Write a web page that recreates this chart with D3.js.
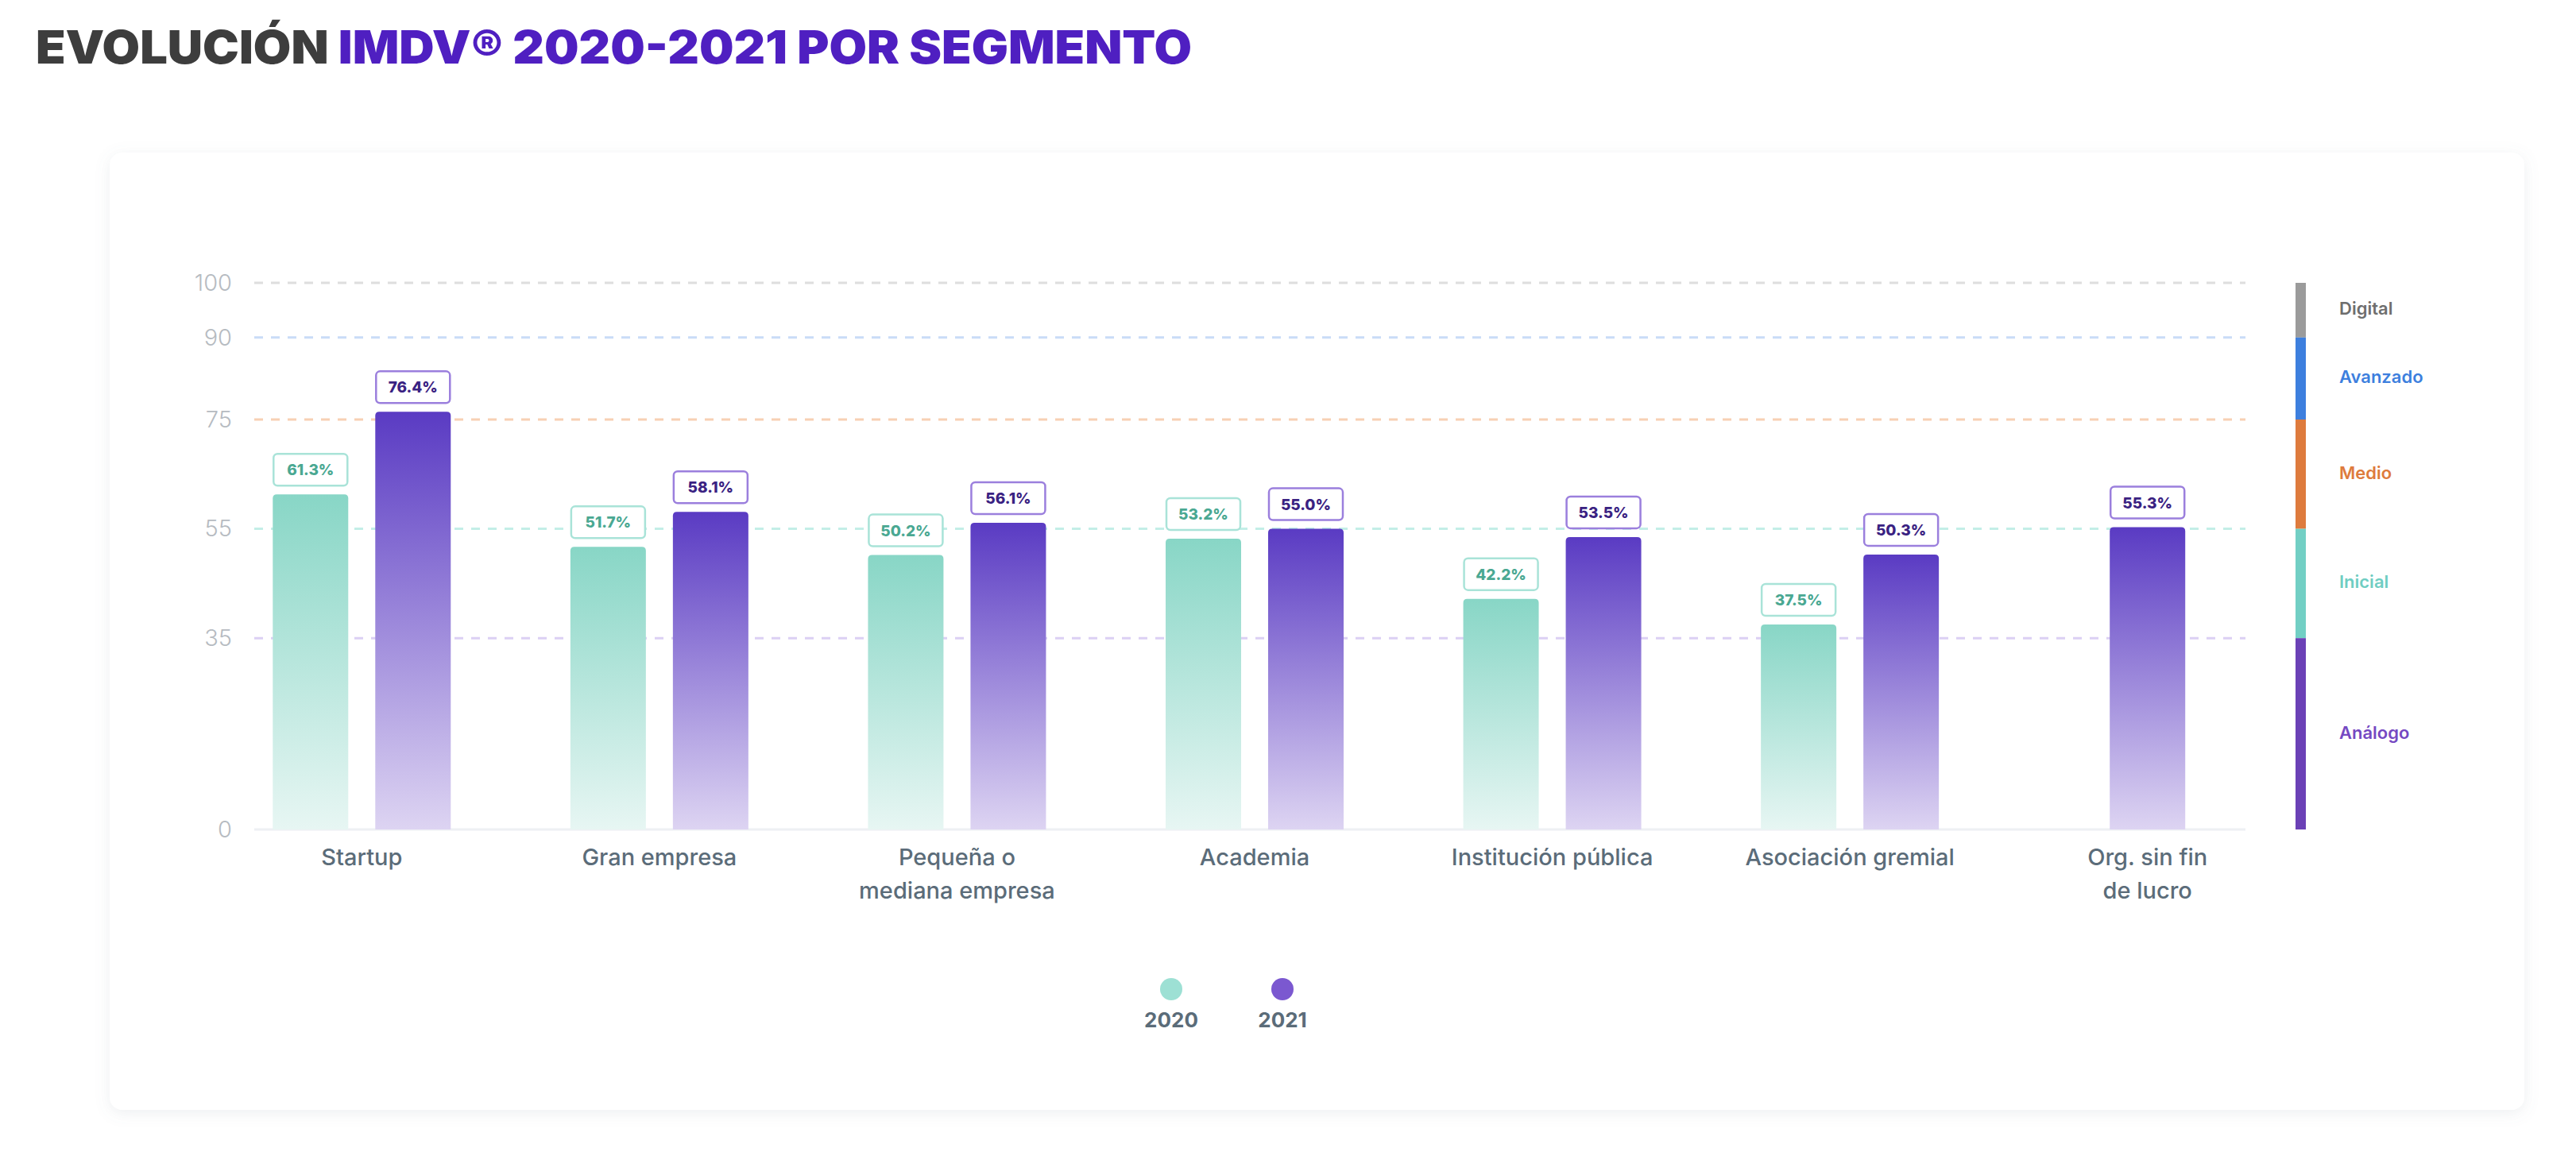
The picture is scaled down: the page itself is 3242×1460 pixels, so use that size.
<!DOCTYPE html>
<html>
<head>
<meta charset="utf-8">
<script src="https://cdn.jsdelivr.net/npm/d3@7"></script>
<style>
  html, body { margin: 0; padding: 0; background: #ffffff; }
  svg { display: block; }
  text { font-family: Inter, "Open Sans", sans-serif; }
</style>
</head>
<body>
<svg id="chart" width="3242" height="1460"></svg>
<script>
// ---------- data ----------
const categories = [
  "Startup",
  "Gran empresa",
  "Pequeña o\nmediana empresa",
  "Academia",
  "Institución pública",
  "Asociación gremial",
  "Org. sin fin\nde lucro"
];
const series = ["2020", "2021"];
const values2020 = [61.3, 51.7, 50.2, 53.2, 42.2, 37.5, null];
const values2021 = [76.4, 58.1, 56.1, 55.0, 53.5, 50.3, 55.3];
const yTicks = [0, 35, 55, 75, 90, 100];
const levelNames = ["Digital", "Avanzado", "Medio", "Inicial", "Análogo"];
const levelTop = [100, 90, 75, 55, 35];
const levelBottom = [90, 75, 55, 35, 0];

// ---------- styles ----------
const levelBarColors = ["#9b9b9b", "#3d7fde", "#de7b3d", "#72cfc4", "#6b41b6"];
const levelTextColors = ["#6e6e6e", "#3d7fde", "#de7b3d", "#6fcdc2", "#7549c2"];
const gridColors = {0: null, 35: "#dcd0f4", 55: "#c3eee7", 75: "#f7d0b4", 90: "#c9dcf7", 100: "#dedede"};

const svg = d3.select("#chart");
const defs = svg.append("defs");

// card shadow
const f = defs.append("filter").attr("id", "shadow").attr("x", "-5%").attr("y", "-5%").attr("width", "110%").attr("height", "115%");
f.append("feDropShadow").attr("dx", 0).attr("dy", 4).attr("stdDeviation", 9).attr("flood-color", "#7a8a99").attr("flood-opacity", 0.13);

function grad(id, top, bottom) {
  const g = defs.append("linearGradient").attr("id", id).attr("x1", 0).attr("y1", 0).attr("x2", 0).attr("y2", 1);
  g.append("stop").attr("offset", "0%").attr("stop-color", top);
  g.append("stop").attr("offset", "100%").attr("stop-color", bottom);
}
grad("g2020", "#88d6c6", "#e7f6f3");
grad("g2021", "#5a3bc3", "#ddd4f2");

// title
svg.append("text")
  .attr("x", 45).attr("y", 80)
  .attr("textLength", 1455).attr("lengthAdjust", "spacingAndGlyphs")
  .style("font-size", "58px").style("font-weight", 900)
  .call(t => {
    t.append("tspan").attr("fill", "#3d3d3d").text("EVOLUCIÓN ");
    t.append("tspan").attr("fill", "#4f1fc1").text("IMDV® 2020-2021 POR SEGMENTO");
  });

// card
svg.append("rect")
  .attr("x", 138).attr("y", 192).attr("width", 3039).attr("height", 1205)
  .attr("rx", 16).attr("fill", "#ffffff").attr("filter", "url(#shadow)");

// ---------- scales ----------
const gridX0 = 320, gridX1 = 2826;
const y = d3.scaleLinear().domain([0, 100]).range([1044, 356]);
const x0 = d3.scaleBand().domain(categories).range([268, 2890]).padding(0);
const pairW = 224;
const x1 = d3.scaleBand().domain(series).range([0, pairW]).paddingInner(0.2636).paddingOuter(0);
const bw = x1.bandwidth();

// gridlines
svg.append("g").selectAll("line")
  .data(yTicks.filter(v => gridColors[v]))
  .join("line")
  .attr("x1", gridX0).attr("x2", gridX1)
  .attr("y1", d => y(d)).attr("y2", d => y(d))
  .attr("stroke", d => gridColors[d])
  .attr("stroke-width", 3)
  .attr("stroke-dasharray", "11,10");

// baseline
svg.append("line")
  .attr("x1", gridX0).attr("x2", gridX1)
  .attr("y1", y(0)).attr("y2", y(0))
  .attr("stroke", "#eef0f4").attr("stroke-width", 3);

// y axis
const yAxis = svg.append("g")
  .attr("transform", `translate(${gridX0},0)`)
  .call(d3.axisLeft(y).tickValues(yTicks).tickSize(0).tickPadding(28).tickFormat(d3.format("d")));
yAxis.select(".domain").remove();
yAxis.selectAll("text")
  .attr("fill", "#b6bbc1")
  .style("font-size", "29px").style("font-weight", 300)
  .style("font-family", "Inter, sans-serif");

// x axis
const xAxis = svg.append("g")
  .attr("transform", `translate(0,${y(0)})`)
  .call(d3.axisBottom(x0).tickSize(0).tickPadding(0).tickFormat(""));
xAxis.select(".domain").remove();
xAxis.selectAll(".tick text")
  .attr("y", 45).attr("dy", null)
  .attr("fill", "#5b6c79")
  .style("font-size", "29px").style("font-weight", 500)
  .style("font-family", "Inter, sans-serif")
  .each(function(d) {
    const lines = d.split("\n");
    const t = d3.select(this);
    lines.forEach((ln, i) => {
      t.append("tspan").attr("x", 0).attr("y", 45 + i * 42).text(ln);
    });
  });

// bars
const barData = [];
categories.forEach((c, i) => {
  const v0 = values2020[i], v1 = values2021[i];
  const present = [];
  if (v0 != null) present.push({s: "2020", v: v0});
  if (v1 != null) present.push({s: "2021", v: v1});
  present.forEach(p => {
    let bx;
    if (present.length === 2) bx = x0(c) + (x0.bandwidth() - pairW) / 2 + x1(p.s);
    else bx = x0(c) + (x0.bandwidth() - bw) / 2;
    barData.push({c, s: p.s, v: p.v, x: bx});
  });
});

function topRounded(xx, yy, w, h, r) {
  return `M${xx},${yy + h} L${xx},${yy + r} Q${xx},${yy} ${xx + r},${yy} L${xx + w - r},${yy} Q${xx + w},${yy} ${xx + w},${yy + r} L${xx + w},${yy + h} Z`;
}

svg.append("g").selectAll("path")
  .data(barData)
  .join("path")
  .attr("d", d => topRounded(d.x, y(d.v), bw, y(0) - y(d.v), 5))
  .attr("fill", d => d.s === "2020" ? "url(#g2020)" : "url(#g2021)");

// value labels
const lab = svg.append("g").selectAll("g")
  .data(barData)
  .join("g")
  .attr("transform", d => `translate(${d.x},${y(d.v) - 11 - 40})`);
lab.append("rect")
  .attr("x", 1).attr("y", 0).attr("width", bw - 2).attr("height", 40).attr("rx", 5)
  .attr("fill", "#ffffff")
  .attr("stroke", d => d.s === "2020" ? "#a9e3d8" : "#9b7fdd")
  .attr("stroke-width", 2.5);
lab.append("text")
  .attr("x", bw / 2).attr("y", 27)
  .attr("text-anchor", "middle")
  .attr("fill", d => d.s === "2020" ? "#4aa892" : "#3a2282")
  .style("font-size", "19px").style("font-weight", 800)
  .text(d => d3.format(".1f")(d.v) + "%");

// series legend
const legX = {"2020": 1474, "2021": 1614};
const legCol = {"2020": "#9de0d4", "2021": "#7b58d0"};
const lg = svg.append("g").selectAll("g").data(series).join("g")
  .attr("transform", d => `translate(${legX[d]},0)`);
lg.append("circle").attr("cx", 0).attr("cy", 1245).attr("r", 14).attr("fill", d => legCol[d]);
lg.append("text").attr("x", 0).attr("y", 1293).attr("text-anchor", "middle")
  .attr("fill", "#5b6c79").style("font-size", "26px").style("font-weight", 700)
  .text(d => d);

// level legend bar
const levels = levelNames.map((n, i) => ({n, top: levelTop[i], bottom: levelBottom[i], i}));
svg.append("g").selectAll("rect").data(levels).join("rect")
  .attr("x", 2889).attr("width", 13)
  .attr("y", d => y(d.top)).attr("height", d => y(d.bottom) - y(d.top))
  .attr("fill", d => levelBarColors[d.i]);
svg.append("g").selectAll("text").data(levels).join("text")
  .attr("x", 2944).attr("y", d => (y(d.top) + y(d.bottom)) / 2)
  .attr("dominant-baseline", "middle")
  .attr("fill", d => levelTextColors[d.i])
  .style("font-size", "22px").style("font-weight", 600)
  .text(d => d.n);
</script>
</body>
</html>
